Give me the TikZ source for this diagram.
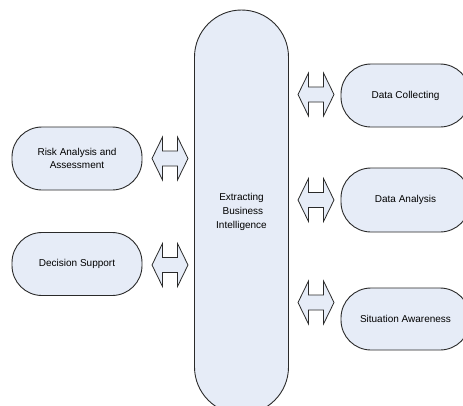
\documentclass[tikz,border=0pt]{standalone}
\usepackage{fontspec}
\setmainfont{Liberation Sans}
\definecolor{bubblefill}{HTML}{E6ECF7}
\definecolor{edgecol}{HTML}{2A2A2A}
\tikzset{
  bubble/.style={draw=edgecol, fill=bubblefill, line width=0.9pt, rounded corners=30pt,
    minimum width=130pt, minimum height=63pt, align=center, inner sep=0pt,
    font=\fontsize{10}{13.5}\selectfont},
  pill/.style={draw=edgecol, fill=bubblefill, line width=0.9pt, rounded corners=47pt,
    minimum width=94pt, minimum height=404pt, align=center, inner sep=0pt,
    font=\fontsize{10}{14}\selectfont},
  bidir/.pic={
    \draw[draw=edgecol, fill=bubblefill, line width=0.8pt, line join=miter]
      (-18,0) -- (-7.5,21.5) -- (-7.5,7.5) -- (7.5,7.5) -- (7.5,21.5) -- (18,0)
      -- (7.5,-21.5) -- (7.5,-7.5) -- (-7.5,-7.5) -- (-7.5,-21.5) -- cycle;
  }
}
\begin{document}
\begin{tikzpicture}[x=1pt, y=-1pt]
\fill[white] (0,0) rectangle (463,405);
\useasboundingbox (0,0) rectangle (463,405);
\clip (0,0) rectangle (463,405);

\node[pill] (ebi) at (241.5,212) {Extracting\\\ Business\\Intelligence};

\node[bubble] (risk) at (77,158.5) {Risk Analysis and\\Assessment};
\node[bubble] (dec) at (77,264) {Decision Support};

\node[bubble, minimum width=129pt] (dc) at (405.5,95.5) {Data Collecting};
\node[bubble, minimum width=129pt, minimum height=64pt] (da) at (405.5,200) {Data Analysis};
\node[bubble, minimum width=129pt, minimum height=62pt] (sa) at (405.5,319) {Situation Awareness};

\pic (a1) at (170,158.5) {bidir};
\pic (a2) at (170,265) {bidir};
\pic (a3) at (316,94.5) {bidir};
\pic (a4) at (316,200) {bidir};
\pic (a5) at (316,302.5) {bidir};
\end{tikzpicture}
\end{document}
